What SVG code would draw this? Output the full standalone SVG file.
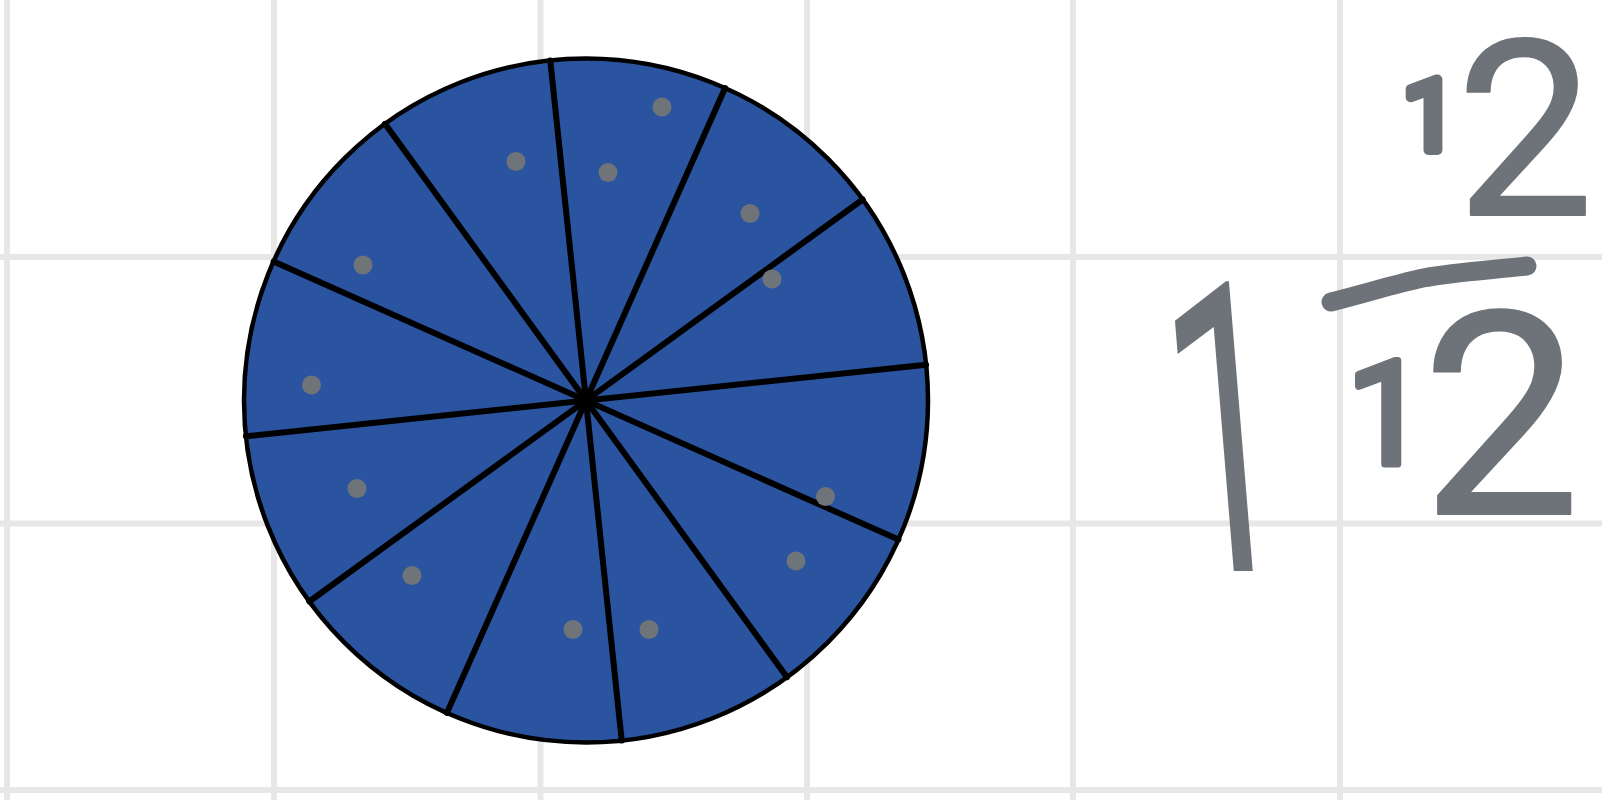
<svg xmlns="http://www.w3.org/2000/svg" width="1602" height="800" viewBox="0 0 1602 800">
<style>
.grid{stroke:#e7e7e7;stroke-width:6;fill:none}
.spoke{stroke:#000;stroke-width:6;stroke-linecap:round}
.dot{fill:#6f7479}
.hand{font-family:Roboto,"Open Sans",sans-serif;fill:#6d7379;stroke:#6d7379;stroke-linejoin:round;stroke-linecap:round}
</style>
<rect width="1602" height="800" fill="#fff"/>
<g id="grid" class="grid">
<line x1="7" y1="0" x2="7" y2="800"/>
<line x1="274" y1="0" x2="274" y2="800"/>
<line x1="540.5" y1="0" x2="540.5" y2="800"/>
<line x1="807" y1="0" x2="807" y2="800"/>
<line x1="1073" y1="0" x2="1073" y2="800"/>
<line x1="1340" y1="0" x2="1340" y2="800"/>
<line x1="0" y1="257" x2="1602" y2="257"/>
<line x1="0" y1="523.5" x2="1602" y2="523.5"/>
<line x1="0" y1="790" x2="1602" y2="790"/>
</g>
<g id="pie">
<circle cx="586" cy="400.5" r="342" fill="#2a54a0" stroke="#000" stroke-width="4.5"/>
<g class="spoke">
<line x1="550.25" y1="60.4" x2="621.75" y2="740.6"/>
<line x1="725.1" y1="88.06" x2="446.9" y2="712.9"/>
<line x1="862.7" y1="199.5" x2="309.3" y2="601.5"/>
<line x1="926.1" y1="364.75" x2="245.9" y2="436.25"/>
<line x1="898.4" y1="539.6" x2="273.6" y2="261.4"/>
<line x1="787" y1="677.2" x2="385" y2="123.8"/>
</g>
<g class="dot">
<circle cx="662" cy="107" r="9.5"/>
<circle cx="516" cy="161.5" r="9.5"/>
<circle cx="608" cy="172.5" r="9.5"/>
<circle cx="750" cy="213.5" r="9.5"/>
<circle cx="363" cy="265" r="9.5"/>
<circle cx="772" cy="279" r="9.5"/>
<circle cx="311.5" cy="385" r="9.5"/>
<circle cx="357" cy="488.5" r="9.5"/>
<circle cx="825.5" cy="496.5" r="9.5"/>
<circle cx="412" cy="575.5" r="9.5"/>
<circle cx="796" cy="561" r="9.5"/>
<circle cx="573" cy="629.5" r="9.5"/>
<circle cx="649" cy="629.5" r="9.5"/>
</g>
</g>
<g id="mixed-number">
<text class="hand" font-size="210" stroke-width="0" text-anchor="middle" x="-14" y="0" transform="translate(1251,571) skewX(4.7) scale(1,1.93)">1</text>
<text class="hand" text-anchor="middle"><tspan x="1430" y="150" font-size="98" stroke-width="10">1</tspan><tspan x="1525" y="215" font-size="245" stroke-width="2">2</tspan></text>
<path d="M1331,302 C1370,292 1395,284 1423,278 C1455,272 1490,270 1527,266" fill="none" stroke="#6d7379" stroke-width="19" stroke-linecap="round"/>
<text class="hand" text-anchor="middle"><tspan x="1387" y="463.5" font-size="144" stroke-width="7">1</tspan><tspan x="1501" y="514" font-size="284" stroke-width="2">2</tspan></text>
</g>
</svg>
